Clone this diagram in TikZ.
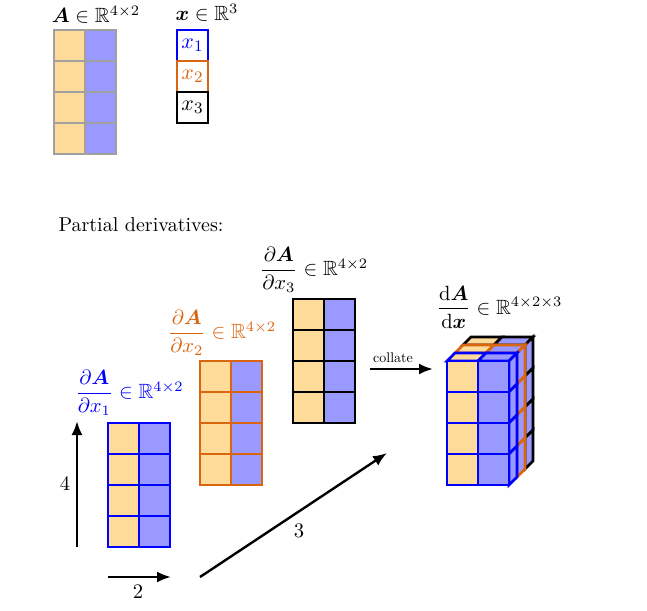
\documentclass[tikz,border=0pt]{standalone}
\usepackage{amsmath,amssymb,bm}
\usepackage{xcolor}
\usepackage{tikz}
\usetikzlibrary{arrows.meta}
\definecolor{cellorange}{HTML}{FFDB99}
\definecolor{cellblue}{HTML}{9999FF}
\definecolor{lineorange}{HTML}{D9650F}
\definecolor{linegray}{HTML}{A0A0A0}
\tikzset{
  cell/.style={draw=#1, line width=1.4pt, minimum size=15.5pt, inner sep=0pt, outer sep=0pt},
  arrowline/.style={->, line width=1.2pt},
  mainlabel/.style={inner sep=0pt},
  mathlabel/.style={inner sep=0pt, scale=1.03},
}
% one 4x2 block of cells, named #1r-c
\newcommand{\cellmat}[4]{
  \foreach \r in {1,...,4} {
    \node [cell=#4, fill=cellorange] (#1\r-1) at (#2+15.5, #3+31*\r-15.5) {};
    \node [cell=#4, fill=cellblue] (#1\r-2) at (#2+46.5, #3+31*\r-15.5) {};
  }
}
% one slab of the stack, top and side faces, #2 is its depth offset
\newcommand{\slab}[2]{
  \foreach \c/\f in {0/cellorange,1/cellblue}
    \draw [draw=#1, line width=1.4pt, fill=\f] (447+31*\c+#2, 361-#2) -- ++(31,0) -- ++(8,-8) -- ++(-31,0) -- cycle;
  \foreach \r in {0,...,3}
    \draw [draw=#1, line width=1.4pt, fill=cellblue] (509+#2, 361+31*\r-#2) -- ++(8,-8) -- ++(0,31) -- ++(-8,8) -- cycle;
}

\begin{document}
\begin{tikzpicture}[>={Latex[length=7pt,width=5.5pt]}, x=0.5pt, y=-0.5pt]
  \useasboundingbox (0,0) rectangle (647,610);

  % given matrix and vector
  \cellmat{A}{54}{30}{linegray}
  \node [mathlabel] (Alabel) at (96,15) {$\bm{A} \in \mathbb{R}^{4 \times 2}$};

  \node [cell=blue] (x1) at (192.5,45.5) {\fontsize{11pt}{12pt}\selectfont\color{blue}$x_1$};
  \node [cell=lineorange] (x2) at (192.5,76.5) {\fontsize{11pt}{12pt}\selectfont\color{lineorange}$x_2$};
  \node [cell=black] (x3) at (192.5,107.5) {\fontsize{11pt}{12pt}\selectfont$x_3$};
  \node [mathlabel] (xlabel) at (207,13) {$\bm{x} \in \mathbb{R}^3$};

  \node [mainlabel] (partial) at (141,225) {Partial derivatives:};

  % partial derivatives
  \cellmat{P}{108}{423}{blue}
  \cellmat{Q}{200}{361}{lineorange}
  \cellmat{S}{293}{299}{black}
  \node [mathlabel, blue] (Plabel) at (129.5,393) {$\dfrac{\partial \bm{A}}{\partial x_1} \in \mathbb{R}^{4 \times 2}$};
  \node [mathlabel, lineorange] (Qlabel) at (222,333) {$\dfrac{\partial \bm{A}}{\partial x_2} \in \mathbb{R}^{4 \times 2}$};
  \node [mathlabel] (Slabel) at (314,270) {$\dfrac{\partial \bm{A}}{\partial x_3} \in \mathbb{R}^{4 \times 2}$};

  % collated stack
  \slab{black}{16}
  \slab{lineorange}{8}
  \slab{blue}{0}
  \cellmat{T}{447}{361}{blue}
  \node [mathlabel] (Tlabel) at (499.5,307) {$\dfrac{\mathrm{d} \bm{A}}{\mathrm{d} \bm{x}} \in \mathbb{R}^{4 \times 2 \times 3}$};

  % arrows
  \coordinate (up0) at (77,547);
  \coordinate (up1) at (77,421);
  \coordinate (right0) at (108,577);
  \coordinate (right1) at (171,577);
  \coordinate (deep0) at (200,577);
  \coordinate (deep1) at (387,453);
  \coordinate (coll0) at (370,369);
  \coordinate (coll1) at (433,369);
  \draw [arrowline] (up0) -- (up1);
  \draw [arrowline] (right0) -- (right1);
  \draw [arrowline] (deep0) -- (deep1);
  \draw [arrowline] (coll0) -- (coll1);
  \node [mathlabel] (four) at (65,484) {$4$};
  \node [mathlabel] (two) at (138,592) {$2$};
  \node [mathlabel] (three) at (299,531) {$3$};
  \node [mainlabel, scale=0.7] (collate) at (393,358) {collate};
\end{tikzpicture}
\end{document}
